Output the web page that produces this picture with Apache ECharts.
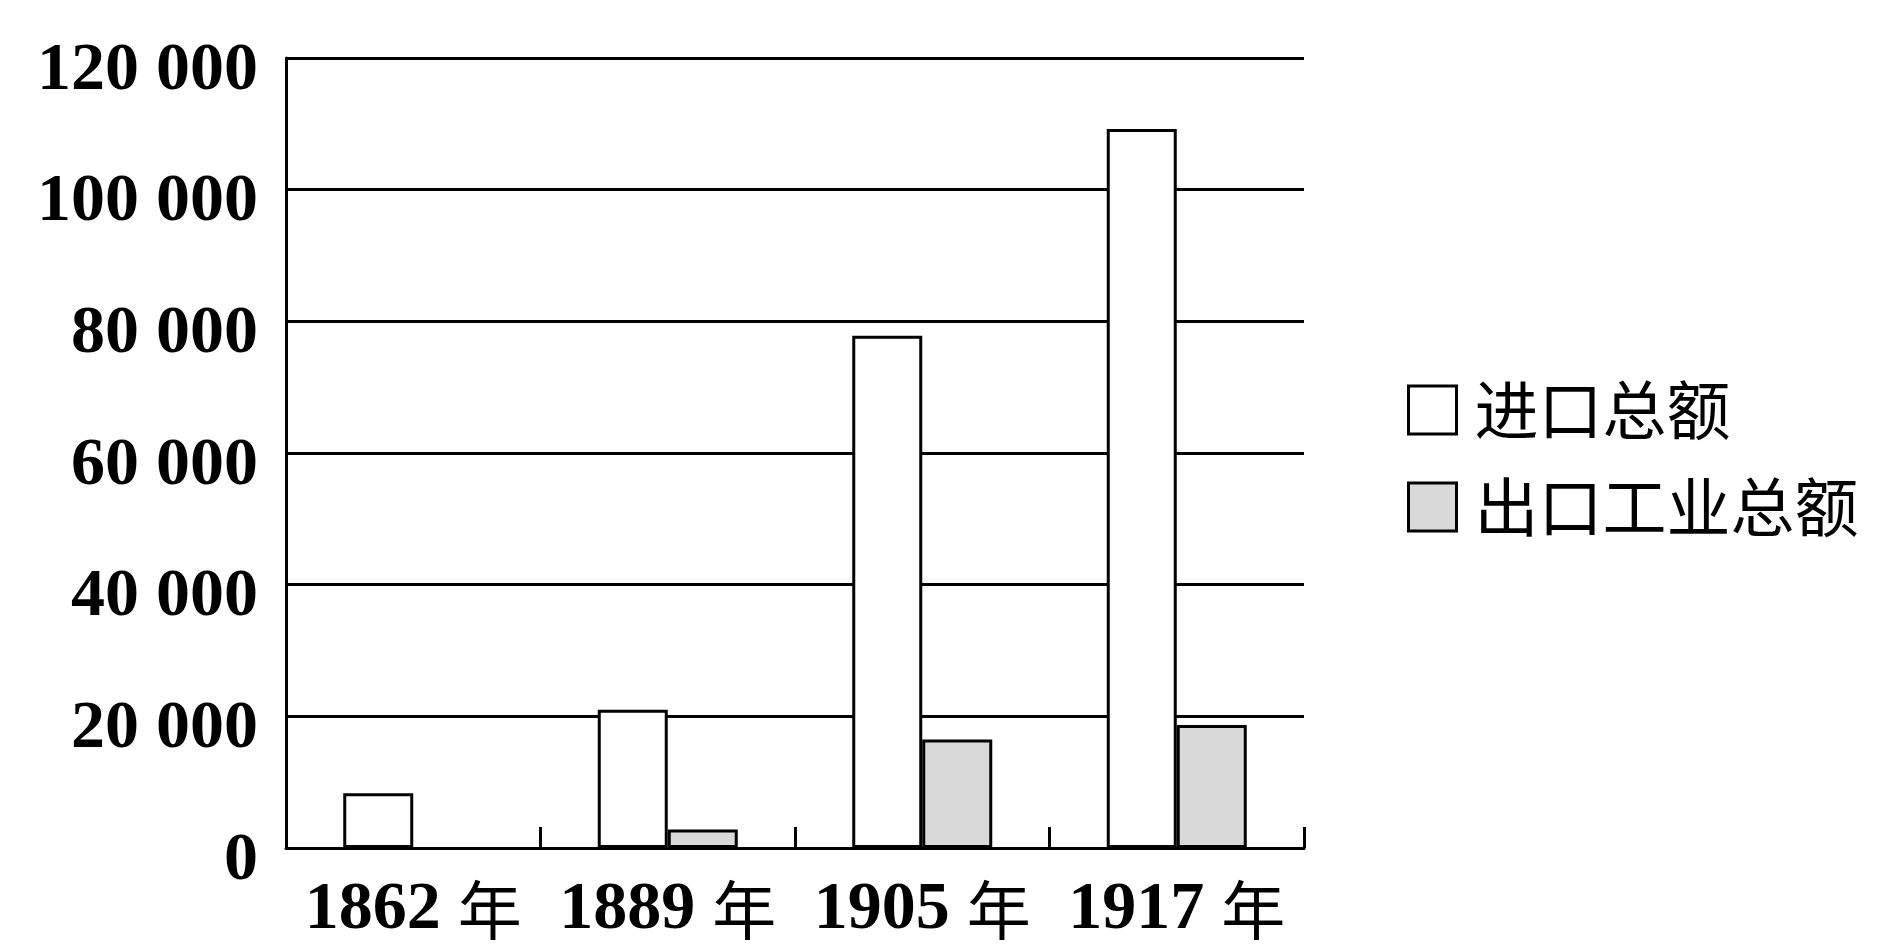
<!DOCTYPE html>
<html>
<head>
<meta charset="utf-8">
<script src="https://cdn.jsdelivr.net/npm/echarts@6/dist/echarts.min.js"></script>
<style>
html,body{margin:0;padding:0;background:#fff;}
#chart{width:1890px;height:949px;}
</style>
</head>
<body>
<div id="chart"></div>
<script>
var categories = ['1862 年', '1889 年', '1905 年', '1917 年'];
var seriesNames = ['进口总额', '出口工业总额'];
var importValues = [8300, 21000, 77800, 109200];
var exportValues = [null, 2800, 16500, 18700];
var yMin = 0, yMax = 120000, yInterval = 20000;

function fmtNum(v) {
  return String(v).replace(/\B(?=(\d{3})+(?!\d))/g, ' ');
}

var serifFont = "'Liberation Serif', 'Noto Sans CJK SC', serif";
var cjkFont = "'Noto Sans CJK SC', sans-serif";

var chart = echarts.init(document.getElementById('chart'), null, {renderer: 'canvas'});
chart.setOption({
  backgroundColor: '#ffffff',
  animation: false,
  grid: {left: 286, right: 586, top: 58, bottom: 101, containLabel: false},
  legend: {
    orient: 'vertical',
    left: 1402,
    top: 373,
    itemWidth: 48,
    itemHeight: 48,
    itemGap: 33,
    icon: 'rect',
    itemStyle: {borderColor: '#000', borderWidth: 3},
    textStyle: {fontSize: 64, fontFamily: cjkFont, color: '#000', padding: [0, 0, 0, 13]},
    data: seriesNames
  },
  xAxis: {
    type: 'category',
    data: categories,
    axisLine: {lineStyle: {color: '#000', width: 3}},
    axisTick: {show: true, inside: true, length: 21, lineStyle: {color: '#000', width: 3}},
    axisLabel: {
      margin: 28,
      formatter: function (v) {
        var p = v.split(' ');
        return '{n|' + p[0] + ' }{c|' + p[1] + '}';
      },
      rich: {
        n: {fontSize: 68, fontWeight: 'bold', fontFamily: serifFont, color: '#000'},
        c: {fontSize: 64, fontWeight: 'normal', fontFamily: cjkFont, color: '#000'}
      }
    },
    splitLine: {show: false}
  },
  yAxis: {
    type: 'value',
    min: yMin,
    max: yMax,
    interval: yInterval,
    axisLine: {show: true, lineStyle: {color: '#000', width: 3}},
    axisTick: {show: false},
    axisLabel: {
      margin: 28,
      fontSize: 68,
      fontWeight: 'bold',
      fontFamily: serifFont,
      color: '#000',
      verticalAlign: 'top',
      lineHeight: 26,
      formatter: fmtNum
    },
    splitLine: {show: true, lineStyle: {color: '#000', width: 3}}
  },
  series: [
    {
      name: seriesNames[0],
      type: 'bar',
      data: importValues,
      barWidth: 70,
      barGap: '0%',
      itemStyle: {color: '#ffffff', borderColor: '#000', borderWidth: 3}
    },
    {
      name: seriesNames[1],
      type: 'bar',
      data: exportValues,
      barWidth: 70,
      barGap: '0%',
      itemStyle: {color: '#d9d9d9', borderColor: '#000', borderWidth: 3}
    }
  ]
});
</script>
</body>
</html>
